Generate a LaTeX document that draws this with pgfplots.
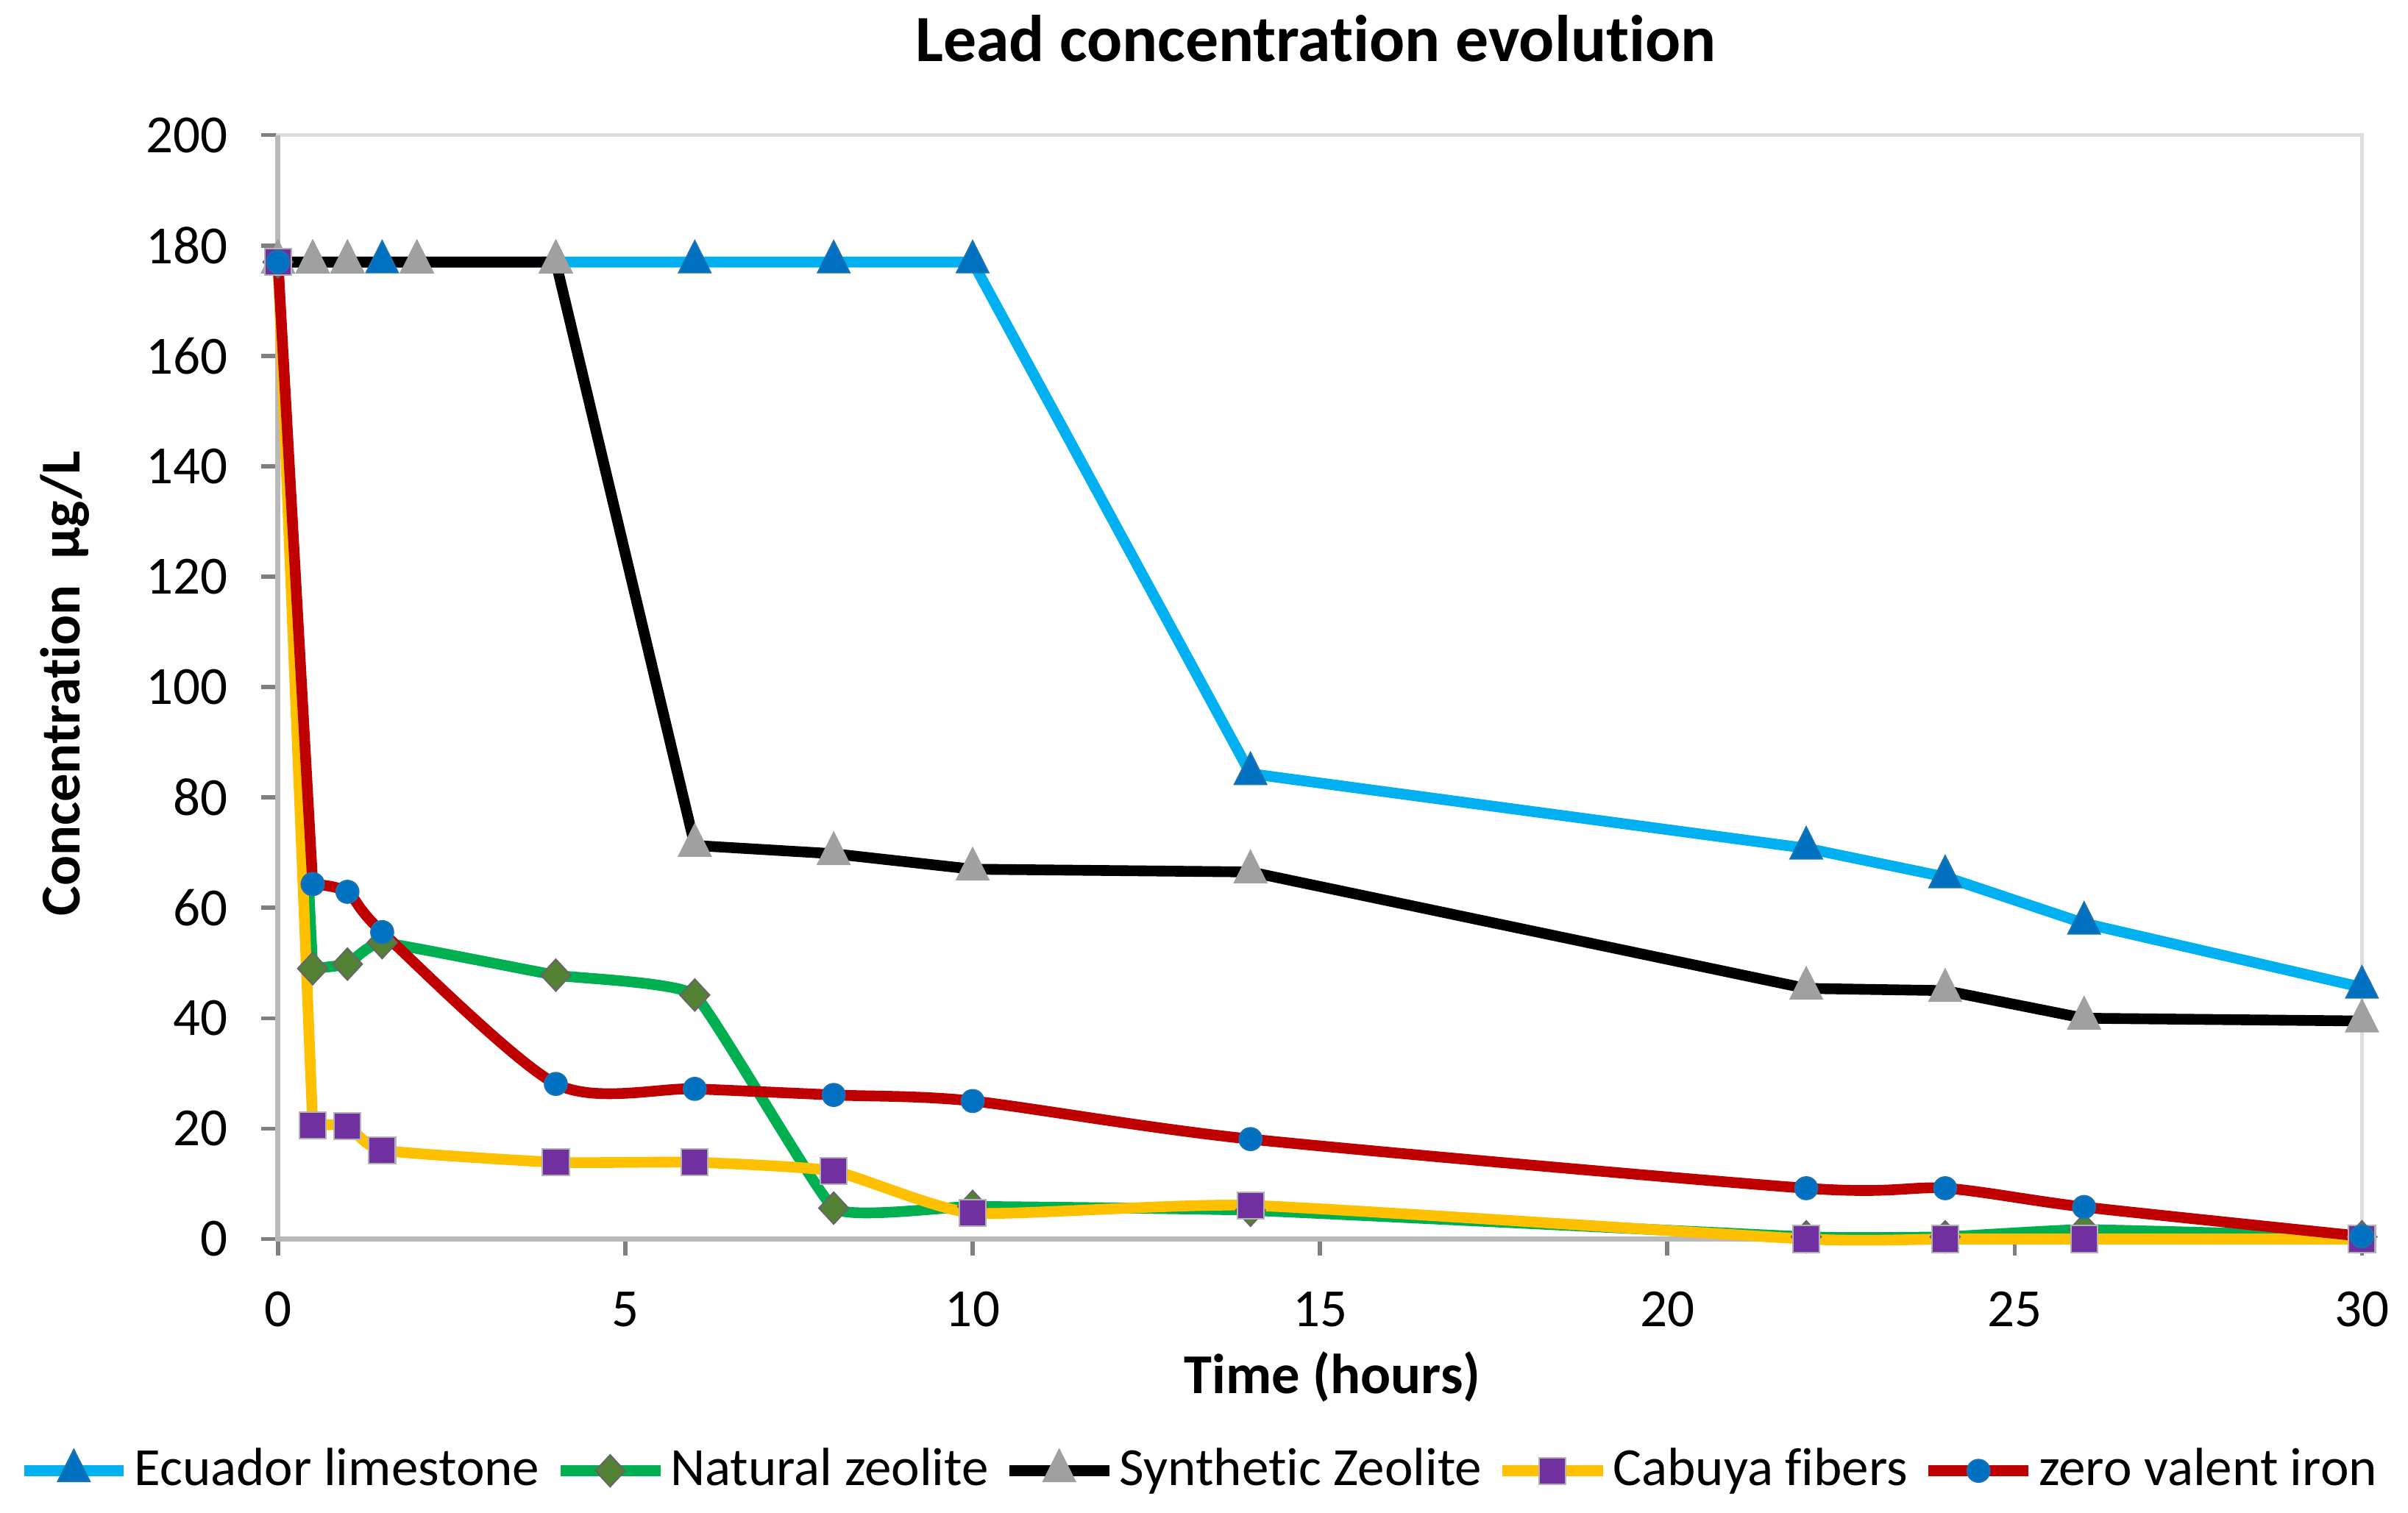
\documentclass[border=0pt]{standalone}
\usepackage{pgfplots}
\pgfplotsset{compat=1.18}
\usepackage{fontspec}
\setmainfont{Carlito}[Ligatures=NoCommon]

\definecolor{limeline}{HTML}{00B0F0}
\definecolor{limemark}{HTML}{0070C0}
\definecolor{natline}{HTML}{00B050}
\definecolor{natmark}{HTML}{548235}
\definecolor{synmark}{HTML}{A0A0A0}
\definecolor{cabline}{HTML}{FFC000}
\definecolor{cabmark}{HTML}{7030A0}
\definecolor{zviline}{HTML}{C00000}
\definecolor{zvimark}{HTML}{0070C0}
\definecolor{axgray}{HTML}{B9B9B9}
\definecolor{boxgray}{HTML}{DDDDDD}
\definecolor{tickgray}{HTML}{808080}

\pgfplotsset{
    natstyle/.style={natline, mark=diamond*, mark size=3.1pt,
        mark options={xscale=1.24, fill=natmark, draw=gray!80!black, line width=0.3pt}},
    cabstyle/.style={cabline, mark=square*, mark size=2.6pt,
        mark options={fill=cabmark, draw=gray!60, line width=0.3pt}},
    zvistyle/.style={zviline, mark=*, mark size=2.2pt,
        mark options={fill=zvimark, draw=zvimark!80!gray, line width=0.3pt}},
}

\begin{document}
\begin{tikzpicture}
\begin{axis}[
    scale only axis,
    width=407.1pt, height=215.7pt,
    xmin=0, xmax=30, ymin=0, ymax=200,
    xtick={0,5,...,30}, ytick={0,20,...,200},
    tick align=outside, tick pos=left,
    major tick length=3.3pt,
    tick style={draw=tickgray, line width=0.8pt},
    axis line style={draw=boxgray, line width=0.7pt},
    clip=false,
    ticklabel style={font=\fontsize{10.5}{12}\selectfont},
    yticklabel style={xshift=-3pt},
    xticklabel style={yshift=-3.5pt},
    /pgf/number format/assume math mode=true,
    xlabel={Time (hours)},
    xlabel style={at={(0.506,-0.125)}, anchor=center, font=\bfseries\fontsize{11}{13}\selectfont},
    ylabel={Concentration\ \ µg/L},
    ylabel style={at={(-0.1024,0.503)}, anchor=center, font=\bfseries\fontsize{11}{13}\selectfont},
    legend columns=5,
    legend style={at={(0.442,-0.21)}, anchor=center, draw=none, fill=none,
        font=\fontsize{10.5}{12}\selectfont, inner sep=0pt,
        nodes={inner xsep=0.5pt},
        /tikz/every odd column/.append style={column sep=0.5pt},
        /tikz/every even column/.append style={column sep=2.5pt}},
    legend image code/.code={\draw[mark repeat=2,mark phase=2,#1]
        plot coordinates {(0pt,0pt) (9.75pt,0pt) (19.5pt,0pt)};},
    every axis plot/.append style={line width=2.1pt},
]
\coordinate (sw) at (rel axis cs:0,0);
\coordinate (ne) at (rel axis cs:1,1);
\draw[axgray, line width=1.05pt] (rel axis cs:0,1) -- (rel axis cs:0,0) -- (rel axis cs:1,0);
\node[anchor=base, font=\bfseries\fontsize{12.9}{15}\selectfont]
    at (rel axis cs:0.498,1.0668) {Lead concentration evolution};

% Ecuador limestone
\addplot[limeline, mark=triangle*, mark size=3.6pt,
    mark options={yscale=1.15, fill=limemark, draw=limemark!80!gray, line width=0.3pt}] coordinates {
    (0,177) (0.5,177) (1,177) (1.5,177) (2,177) (4,177) (6,177) (8,177) (10,177)
    (14,84.3) (22,70.8) (24,65.6) (26,57.2) (30,45.6)
};
\addlegendentry{Ecuador limestone}

% Natural zeolite
\addplot[natstyle, forget plot] coordinates {(0,177) (0.5,49)};
\addplot[natstyle, smooth, tension=0.2] coordinates {
    (0.5,49) (1,49.8) (1.5,53.7) (4,47.8) (6,44.2) (8,5.6) (10,5.9)
    (14,5.2) (22,0.4) (24,0.4) (26,1.7) (30,0.4)
};
\addlegendentry{Natural zeolite}

% Synthetic zeolite
\addplot[black, mark=triangle*, mark size=3.6pt,
    mark options={yscale=1.15, fill=synmark, draw=synmark, line width=0.3pt}] coordinates {
    (0,177) (0.5,177) (1,177) (2,177) (4,177) (6,71.3) (8,69.8) (10,67)
    (14,66.5) (22,45.4) (24,45) (26,40) (30,39.5)
};
\addlegendentry{Synthetic Zeolite}

% Cabuya fibers
\addplot[cabstyle, forget plot] coordinates {(0,177) (0.5,20.6)};
\addplot[cabstyle, smooth, tension=0.3] coordinates {
    (0.5,20.6) (1,20.5) (1.5,16.1) (4,13.9) (6,13.9) (8,12.3) (10,4.7)
    (14,6.1) (22,0) (24,0) (26,0) (30,0)
};
\addlegendentry{Cabuya fibers}

% zero valent iron
\addplot[zvistyle, forget plot] coordinates {(0,177) (0.5,64.3)};
\addplot[zvistyle, smooth, tension=0.45] coordinates {
    (0.5,64.3) (1,62.9) (1.5,55.6) (4,28.1) (6,27.2) (8,26.1) (10,25)
    (14,18.1) (22,9.2) (24,9.2) (26,5.8) (30,0.5)
};
\addlegendentry{zero valent iron}
\end{axis}
\pgfresetboundingbox
\path ([shift={(-54.3pt,-53.4pt)}]sw) rectangle ([shift={(9pt,26.4pt)}]ne);
\end{tikzpicture}
\end{document}
